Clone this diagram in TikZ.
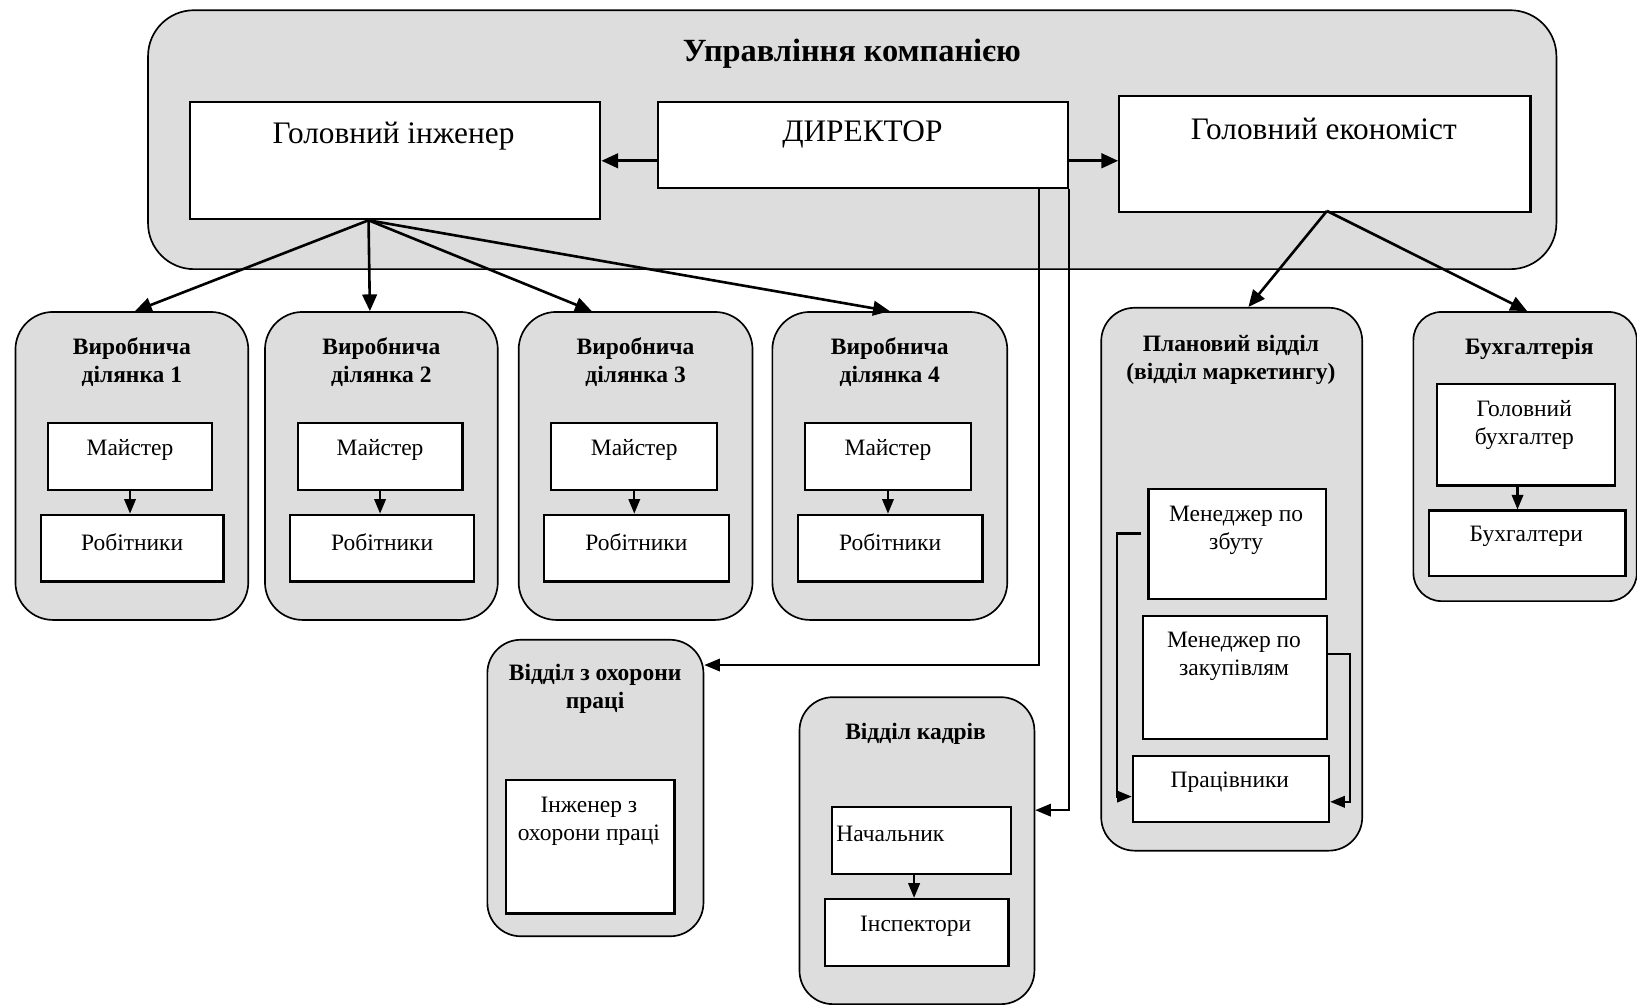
\documentclass[tikz,border=0pt]{standalone}
\usepackage{fontspec}
\setmainfont{Liberation Serif}
\usetikzlibrary{arrows.meta,calc}
\definecolor{grayfill}{RGB}{221,221,221}
\begin{document}
\begin{tikzpicture}[x=1pt,y=-1pt,
  grp/.style={draw, line width=1.6pt, fill=grayfill, rounded corners=#1, inner sep=0pt, anchor=north west},
  grp/.default=36pt,
  bx/.style={draw, line width=2.1pt, fill=white, inner sep=0pt, anchor=north west},
  big/.style={font=\fontsize{30}{36}\selectfont, yshift=-2.5pt},
  ttl/.style={font=\fontsize{31}{37}\selectfont\bfseries, yshift=-2.5pt},
  hd/.style={font=\fontsize{22.5}{27}\selectfont\bfseries, align=center, inner sep=0pt, yshift=-2pt},
  tx/.style={font=\fontsize{22.5}{27}\selectfont, align=center, inner sep=0pt, yshift=-2pt},
  arr/.style={line width=2.5pt, -{Triangle[length=16pt,width=14pt]}},
  sarr/.style={line width=2pt, -{Triangle[length=14pt,width=11pt]}},
  tarr/.style={line width=1.8pt, -{Triangle[length=15pt,width=12pt]}}
]
\useasboundingbox (0,0) rectangle (1568,962);

% management
\node[grp=44pt, minimum width=1349pt, minimum height=248pt] (mgmt) at (141,9) {};
\node[ttl] (mgmtT) at (816,49) {Управління компанією};
\node[bx, minimum width=393pt, minimum height=112pt] (eng) at (181,97) {};
\node[big] (engT) at (377,128) {Головний інженер};
\node[bx, minimum width=393pt, minimum height=82pt] (dir) at (629,97) {};
\node[big] (dirT) at (826,126) {ДИРЕКТОР};
\node[bx, minimum width=394pt, minimum height=111pt] (eco) at (1071,91) {};
\node[big] (ecoT) at (1268,121) {Головний економіст};

% production sections
\foreach \i/\x/\w/\mx/\mw/\rx/\rw in {1/14/223/45/157/38/175, 2/253/223/284/158/277/176, 3/496/224/527/159/520/177, 4/739/225/770/159/763/177}{
  \node[grp, minimum width=\w pt, minimum height=295pt] (s\i) at (\x,298) {};
  \node[hd] (s\i T) at ($(s\i.north)+(0,47)$) {Виробнича\\ділянка \i};
  \node[bx, minimum width=\mw pt, minimum height=64pt] (m\i) at (\mx,404) {};
  \node[tx] (m\i T) at ($(m\i.north)+(0,25)$) {Майстер};
  \node[bx, minimum width=\rw pt, minimum height=64pt] (r\i) at (\rx,492) {};
  \node[tx] (r\i T) at ($(r\i.north)+(0,25)$) {Робітники};
  \draw[sarr] (m\i.south) -- (m\i.south |- r\i.north);
}

% planning
\node[grp=32pt, minimum width=250pt, minimum height=520pt] (plan) at (1054,294) {};
\node[hd] (planT) at (1179,343) {Плановий відділ\\(відділ маркетингу)};
\node[bx, minimum width=170pt, minimum height=106pt] (ms) at (1099,467) {};
\node[tx] (msT) at (1184,506) {Менеджер по\\збуту};
\node[bx, minimum width=176pt, minimum height=118pt] (mz) at (1094,589) {};
\node[tx] (mzT) at (1182,627) {Менеджер по\\закупівлям};
\node[bx, minimum width=188pt, minimum height=63pt] (pw) at (1084,723) {};
\node[tx] (pwT) at (1178,747) {Працівники};
\draw[sarr] ($(ms.north west)+(-6,44)$) -- ++(-23,0) |- ($(pw.north west)+(0,40)$);
\draw[sarr] ($(mz.north east)+(0,37)$) -- ++(21,0) |- ($(pw.north east)+(0,45)$);

% accounting
\node[grp=27pt, minimum width=214pt, minimum height=277pt] (acc) at (1353,298) {};
\node[hd] (accT) at (1465,332) {Бухгалтерія};
\node[bx, minimum width=171pt, minimum height=97pt] (gb) at (1375,367) {};
\node[tx] (gbT) at (1460,405) {Головний\\бухгалтер};
\node[bx, minimum width=188pt, minimum height=63pt] (bh) at (1368,488) {};
\node[tx] (bhT) at (1462,512) {Бухгалтери};
\draw[sarr] ($(gb.south)+(-8,0)$) -- ($(gb.south |- bh.north)+(-8,0)$);

% safety
\node[grp=32pt, minimum width=207pt, minimum height=284pt] (saf) at (466,612) {};
\node[hd] (safT) at (570,658) {Відділ з охорони\\праці};
\node[bx, minimum width=161pt, minimum height=128pt] (ing) at (484,746) {};
\node[tx] (ingT) at (564,785) {Інженер з\\охорони праці};

% personnel
\node[grp=32pt, minimum width=225pt, minimum height=294pt] (hr) at (765,667) {};
\node[hd] (hrT) at (877,701) {Відділ кадрів};
\node[bx, minimum width=171pt, minimum height=64pt] (nach) at (796,772) {};
\node[tx, anchor=west] (nachT) at (801,797) {Начальник};
\node[bx, minimum width=176pt, minimum height=64pt] (insp) at (789,860) {};
\node[tx] (inspT) at (877,885) {Інспектори};
\draw[sarr] ($(nach.south)+(-7,0)$) -- ($(nach.south |- insp.north)+(-7,0)$);

% connectors in management
\coordinate (yA) at (0,154);
\draw[arr] (dir.west |- yA) -- (eng.east |- yA);
\draw[arr] (dir.east |- yA) -- (eco.west |- yA);

\coordinate (engF) at (353,211);
\draw[arr] (engF) -- ($(s1.north)+(3,0)$);
\draw[arr] (engF) -- ($(s2.north)+(-11,0)$);
\draw[arr] (engF) -- ($(s3.north)+(-42,0)$);
\draw[arr] (engF) -- (s4.north);

\coordinate (ecoF) at (1271,202);
\draw[arr] (ecoF) -- ($(plan.north)+(16,0)$);
\draw[arr] (ecoF) -- ($(acc.north)+(2,0)$);

\draw[tarr] ($(dir.south east)+(-29,0)$) |- ($(saf.north east)+(0,25)$);
\draw[tarr] (dir.south east) |- ($(hr.north east)+(0,109)$);
\end{tikzpicture}
\end{document}
